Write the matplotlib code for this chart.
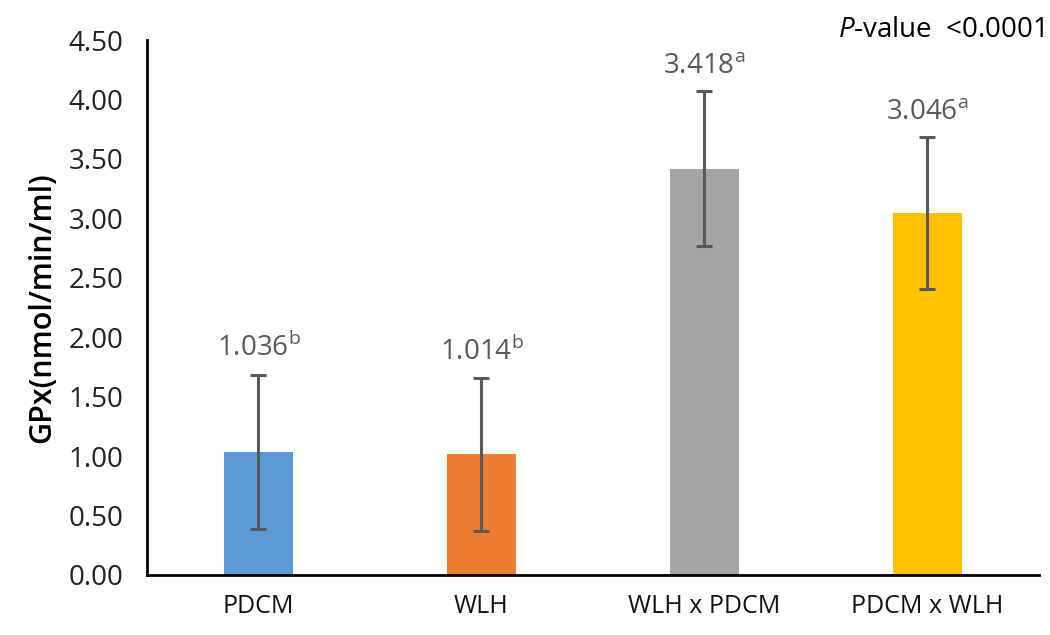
import numpy as np
import matplotlib
matplotlib.use("Agg")
import matplotlib.pyplot as plt

# GPx activity per treatment group
groups = ["PDCM", "WLH", "WLH x PDCM", "PDCM x WLH"]
means = [1.036, 1.014, 3.418, 3.046]
errs = [0.65, 0.64, 0.65, 0.64]
letters = ["b", "b", "a", "a"]
colors = ["#5B9BD5", "#ED7D31", "#A5A5A5", "#FFC000"]
yticks = [0.0, 0.5, 1.0, 1.5, 2.0, 2.5, 3.0, 3.5, 4.0, 4.5]

plt.rcParams["font.family"] = ["Open Sans", "DejaVu Sans"]
plt.rcParams["mathtext.fontset"] = "custom"
plt.rcParams["mathtext.rm"] = "Open Sans"
plt.rcParams["mathtext.it"] = "Open Sans:italic"

fig = plt.figure(figsize=(10.5, 6.35), dpi=100)
ax = fig.add_axes([0.14, 0.0945, 0.8495, 0.8425])

x = np.arange(len(groups))
ax.bar(x, means, width=0.31, color=colors, zorder=2)
ax.errorbar(x, means, yerr=errs, fmt="none", ecolor="#595959",
            elinewidth=2.2, capsize=6, capthick=2.2, zorder=3)

for xi, m, e, l in zip(x, means, errs, letters):
    ax.annotate(r"%.3f$^{\mathregular{%s}}$" % (m, l), (xi, m + e),
                xytext=(0, 8), textcoords="offset points",
                ha="center", va="bottom", fontsize=20, color="#595959")

ax.set_xlim(-0.5, 3.5)
ax.set_ylim(0, 4.5)
ax.set_yticks(yticks)
ax.set_yticklabels(["%.2f" % t for t in yticks])
ax.set_xticks(x)
ax.set_xticklabels(groups)
ax.tick_params(axis="y", length=0, pad=17, labelsize=20, labelcolor="#222222")
ax.tick_params(axis="x", length=0, pad=14, labelsize=18, labelcolor="#111111")

for s in ["top", "right"]:
    ax.spines[s].set_visible(False)
for s in ["left", "bottom"]:
    ax.spines[s].set_linewidth(2)
    ax.spines[s].set_color("black")

ax.set_ylabel("GPx(nmol/min/ml)", fontsize=22, fontweight="semibold", labelpad=8)

fig.text(0.995, 0.952, r"$\mathit{P}$-value  <0.0001", ha="right", va="center",
         fontsize=20, color="black")

fig.savefig("out.png", dpi=100)
